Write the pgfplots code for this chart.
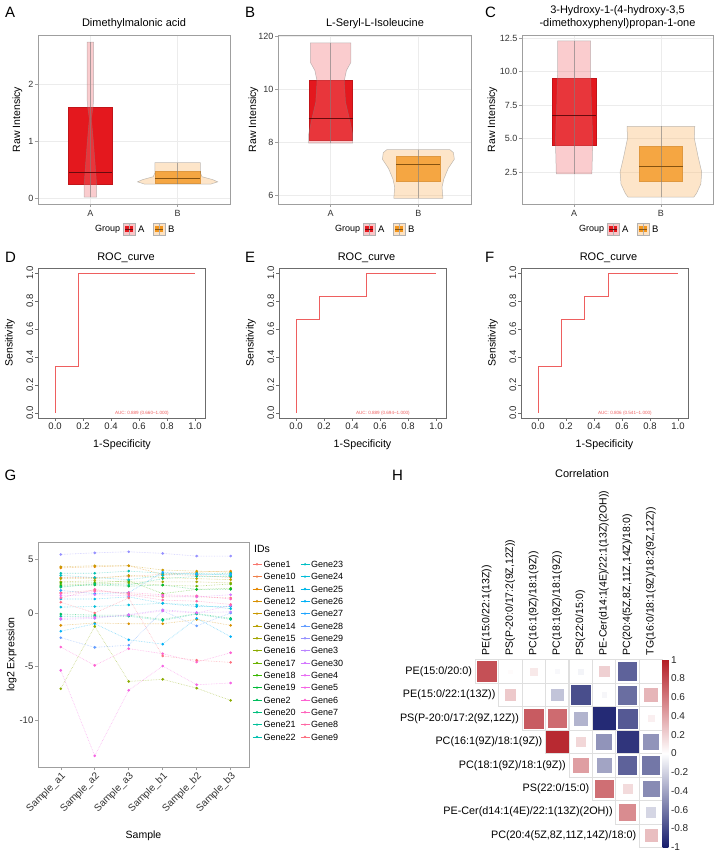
\documentclass[border=0pt]{standalone}
\usepackage{pgfplots}
\pgfplotsset{compat=1.18}
\usepackage{pgfplotstable}
\usepackage{fontspec}
\setmainfont{Liberation Sans}
\newcommand\fs[1]{\fontsize{#1}{#1}\selectfont}

\definecolor{boxA}{RGB}{228,24,30}
\definecolor{boxB}{RGB}{242,150,30}
\definecolor{vioA}{RGB}{240,110,115}
\definecolor{vioB}{RGB}{250,190,120}
\definecolor{rocred}{RGB}{238,95,95}
\definecolor{cGene1}{HTML}{F8766D}
\definecolor{cGene10}{HTML}{EF7F49}
\definecolor{cGene11}{HTML}{E58700}
\definecolor{cGene12}{HTML}{D89000}
\definecolor{cGene13}{HTML}{C99800}
\definecolor{cGene14}{HTML}{B79F00}
\definecolor{cGene15}{HTML}{A3A500}
\definecolor{cGene16}{HTML}{8BAB00}
\definecolor{cGene17}{HTML}{6BB100}
\definecolor{cGene18}{HTML}{39B600}
\definecolor{cGene19}{HTML}{00BA38}
\definecolor{cGene2}{HTML}{00BD5C}
\definecolor{cGene20}{HTML}{00BF7D}
\definecolor{cGene21}{HTML}{00C19A}
\definecolor{cGene22}{HTML}{00C0AF}
\definecolor{cGene23}{HTML}{00BFC4}
\definecolor{cGene24}{HTML}{00BCD8}
\definecolor{cGene25}{HTML}{00B7E8}
\definecolor{cGene26}{HTML}{00B0F6}
\definecolor{cGene27}{HTML}{1FA5FF}
\definecolor{cGene28}{HTML}{619CFF}
\definecolor{cGene29}{HTML}{9590FF}
\definecolor{cGene3}{HTML}{B983FF}
\definecolor{cGene30}{HTML}{D376FF}
\definecolor{cGene4}{HTML}{E76BF3}
\definecolor{cGene5}{HTML}{F564E3}
\definecolor{cGene6}{HTML}{FD61D1}
\definecolor{cGene7}{HTML}{FF62BC}
\definecolor{cGene8}{HTML}{FF67A4}
\definecolor{cGene9}{HTML}{FC7080}

\pgfplotstableread{
s Gene1 Gene10 Gene11 Gene12 Gene13 Gene14 Gene15 Gene16 Gene17 Gene18 Gene19 Gene2 Gene20 Gene21 Gene22 Gene23 Gene24 Gene25 Gene26 Gene27 Gene28 Gene29 Gene3 Gene30 Gene4 Gene5 Gene6 Gene7 Gene8 Gene9
1 1.9 3.3 4.2 -1.15 4.3 3.2 2.9 -7.05 2.6 2.8 2.5 -0.1 2.4 -0.3 3.7 3.5 0.55 1.3 -1.7 2.1 -2.3 5.45 -0.6 1.6 -0.5 -5.34 -3.17 1.8 1.4 1.0
2 2.1 3.3 4.3 -0.93 4.4 3.2 3.0 -1.25 2.7 2.8 2.6 -0.2 2.7 -0.3 3.7 3.3 0.6 1.3 -1.0 1.8 -3.2 5.6 -0.5 1.7 -0.4 -13.3 -4.88 2.0 2.2 0.0
3 1.8 3.4 4.4 -1.0 4.4 3.5 2.9 -6.37 2.8 3.0 2.5 -0.2 2.6 -0.3 3.9 3.1 0.75 1.5 -2.5 1.9 -3.0 5.7 -0.15 1.6 -0.2 -7.2 -3.32 1.9 1.7 1.4
4 1.5 3.6 3.6 -1.0 4.0 3.3 2.9 -6.18 2.6 1.8 2.6 -0.6 3.2 -0.7 3.7 3.5 0.9 0.9 -2.9 3.8 0.2 5.55 0.3 1.6 0.2 -4.94 -3.79 1.7 1.2 -4.0
5 1.5 3.5 3.8 -0.6 3.9 3.2 2.9 -7.0 2.5 2.2 2.2 -0.05 3.4 -0.1 3.6 3.7 0.75 0.6 -0.5 3.6 -1.2 5.3 0.05 1.5 0.0 -6.68 -4.57 1.6 1.1 -4.4
6 1.4 3.3 3.9 -1.15 3.8 3.1 2.8 -8.14 2.7 2.3 2.2 -0.5 3.4 -0.6 3.7 3.5 0.4 0.6 -2.2 3.6 0.0 5.3 0.1 1.7 0.7 -6.52 -3.7 1.3 0.8 -4.6
}\Gdata

\pgfplotstableread{
x y r
0 0 0.78
1 0 0.02
2 0 0.10
3 0 -0.03
4 0 -0.05
5 0 0.21
6 0 -0.69
7 0 0.00
1 1 0.24
2 1 0.00
3 1 -0.26
4 1 -0.78
5 1 -0.04
6 1 -0.64
7 1 0.33
2 2 0.73
3 2 0.66
4 2 -0.33
5 2 -0.94
6 2 -0.73
7 2 0.07
3 3 0.95
4 3 0.18
5 3 -0.47
6 3 -0.89
7 3 -0.47
4 4 0.43
5 4 -0.40
6 4 -0.69
7 4 -0.60
5 5 0.64
6 5 0.16
7 5 -0.51
6 6 0.51
7 6 -0.18
7 7 0.29
}\Hdata

\pgfplotsset{
  bx/.style={scale only axis, anchor=south west, width=#1, height=169pt,
    xmin=0.4, xmax=2.6, xtick={1,2}, xticklabels={A,B},
    grid=major, grid style={gray!15, line width=0.4pt},
    axis line style={gray!75, line width=0.7pt},
    tick style={gray!75, line width=0.5pt}, tick align=outside, tick pos=left,
    major tick length=3pt,
    tick label style={font=\fs{9}, text=black!80},
    yticklabel style={inner sep=1.5pt},
    /pgf/number format/assume math mode=true},
  vA/.style={fill=vioA, fill opacity=0.35, draw=gray, draw opacity=0.5, line width=0.5pt},
  vB/.style={fill=vioB, fill opacity=0.4, draw=gray, draw opacity=0.5, line width=0.5pt},
  bA/.style={fill=boxA, draw=boxA!85!black, line width=0.4pt},
  bB/.style={fill=boxB, draw=boxB!85!black, line width=0.4pt},
  wh/.style={draw=gray, draw opacity=0.6, line width=0.5pt},
  mdA/.style={draw=boxA!45!black, line width=0.7pt},
  mdB/.style={draw=boxB!55!black, line width=0.7pt},
  roc/.style={scale only axis, anchor=south west, width=167.7pt, height=150pt,
    xmin=-0.122, xmax=1.076, ymin=-0.036, ymax=1.036,
    xtick={0,0.2,0.4,0.6,0.8,1}, ytick={0,0.2,0.4,0.6,0.8,1},
    tick pos=left, tick align=outside, major tick length=3pt,
    axis line style={gray!85!black, line width=0.6pt},
    tick style={gray!85!black, line width=0.5pt},
    tick label style={font=\fs{9.5}, text=black!85},
    yticklabel style={rotate=90, anchor=south, inner sep=1.5pt},
    xticklabel style={inner sep=2pt},
    /pgf/number format/fixed, /pgf/number format/fixed zerofill,
    /pgf/number format/precision=1, /pgf/number format/assume math mode=true},
}

\newcommand\grouplegend[1]{%
\begin{scope}[shift={(#1pt,628pt)}]
\node[anchor=west, inner sep=0pt, font=\fs{9}] at (57pt,0pt) {Group};
\filldraw[fill=vioA!40, draw=gray!60, line width=0.4pt] (85pt,-6pt) rectangle (97pt,6pt);
\fill[boxA] (87pt,-3pt) rectangle (95pt,3pt);
\draw[gray!60, line width=0.4pt] (91pt,-6pt)--(91pt,6pt);
\draw[boxA!45!black, line width=0.5pt] (87pt,0pt)--(95pt,0pt);
\node[anchor=west, inner sep=0pt, font=\fs{9.5}] at (100pt,0pt) {A};
\filldraw[fill=vioB!45, draw=gray!60, line width=0.4pt] (115pt,-6pt) rectangle (127pt,6pt);
\fill[boxB] (117pt,-3pt) rectangle (125pt,3pt);
\draw[gray!60, line width=0.4pt] (121pt,-6pt)--(121pt,6pt);
\draw[boxB!55!black, line width=0.5pt] (117pt,0pt)--(125pt,0pt);
\node[anchor=west, inner sep=0pt, font=\fs{9.5}] at (130pt,0pt) {B};
\end{scope}}

\begin{document}
\begin{tikzpicture}
\path[use as bounding box] (0pt,0pt) rectangle (720pt,857pt);

% ---------- panel letters and titles ----------
\foreach \L/\X/\Y in {A/5/844.5, B/245/844.5, C/485/844.5, D/5/599.5, E/245/599.5, F/485/599.5, G/4.5/382, H/392/382}
  \node[anchor=west, inner sep=0pt, font=\fs{15}] at (\X pt,\Y pt) {\L};
\node[font=\fs{11}] at (134pt,833pt) {Dimethylmalonic acid};
\node[font=\fs{11}] at (375pt,833pt) {L-Seryl-L-Isoleucine};
\node[font=\fontsize{11}{13.3}\selectfont, align=center] at (617.5pt,839.5pt) {3-Hydroxy-1-(4-hydroxy-3,5\\-dimethoxyphenyl)propan-1-one};
\foreach \X in {17.5,253.5,492.5}
  \node[rotate=90, font=\fs{10.5}] at (\X pt,737.5pt) {Raw Intensicy};
\grouplegend{38}
\grouplegend{278}
\grouplegend{522}
\foreach \X in {126,366.5,608.5}
  \node[font=\fs{11}] at (\X pt,599.5pt) {ROC\_curve};
\foreach \X in {10,251,493}
  \node[rotate=90, font=\fs{10.5}] at (\X pt,514pt) {Sensitivity};
\foreach \X in {122,362.5,604.5}
  \node[font=\fs{10.7}] at (\X pt,412pt) {1-Specificity};
\node[rotate=90, font=\fs{10.5}] at (11.7pt,202.5pt) {log2 Expression};
\node[font=\fs{10.5}] at (143.5pt,21pt) {Sample};
\node[anchor=west, inner sep=0pt, font=\fs{10.5}] at (254pt,308pt) {IDs};
\node[font=\fs{11}] at (582pt,383pt) {Correlation};

% ---------- A ----------
\begin{axis}[bx=192pt, at={(38pt,653pt)}, ymin=-0.1, ymax=2.875, ytick={0,1,2}]
\addplot[bA] coordinates {(0.75,0.245)(1.25,0.245)(1.25,1.6)(0.75,1.6)} --cycle;
\addplot[bB] coordinates {(1.74,0.27)(2.26,0.27)(2.26,0.48)(1.74,0.48)} --cycle;
\addplot[vA] coordinates {(1.071,0.02)(1.071,0.25)(1.055,0.6)(1.035,1.0)(1.012,1.4)(1.03,1.6)(1.038,1.75)(1.038,2.75)(0.962,2.75)(0.962,1.75)(0.97,1.6)(0.988,1.4)(0.965,1.0)(0.945,0.6)(0.929,0.25)(0.929,0.02)} --cycle;
\addplot[vB] coordinates {(2.38,0.25)(2.46,0.29)(2.40,0.33)(2.28,0.38)(2.26,0.45)(2.26,0.63)(1.74,0.63)(1.74,0.45)(1.72,0.38)(1.60,0.33)(1.54,0.29)(1.62,0.25)} --cycle;
\addplot[wh] coordinates {(1,0.02)(1,2.75)};
\addplot[wh] coordinates {(2,0.25)(2,0.63)};
\addplot[mdA] coordinates {(0.75,0.46)(1.25,0.46)};
\addplot[mdB] coordinates {(1.74,0.35)(2.26,0.35)};
\end{axis}

% ---------- B ----------
\begin{axis}[bx=193pt, at={(278pt,653pt)}, ymin=5.66, ymax=12.04, ytick={6,8,10,12}, yticklabels={6,8,10,120}]
\addplot[bA] coordinates {(0.75,8.08)(1.25,8.08)(1.25,10.33)(0.75,10.33)} --cycle;
\addplot[bB] coordinates {(1.75,6.53)(2.25,6.53)(2.25,7.45)(1.75,7.45)} --cycle;
\addplot[vA] coordinates {(1.25,7.96)(1.25,8.3)(1.22,8.8)(1.17,9.5)(1.155,10.3)(1.18,10.7)(1.23,11.0)(1.23,11.74)(0.77,11.74)(0.77,11.0)(0.82,10.7)(0.845,10.3)(0.83,9.5)(0.78,8.8)(0.75,8.3)(0.75,7.96)} --cycle;
\addplot[vB] coordinates {(2.28,5.87)(2.27,6.3)(2.29,6.6)(2.34,7.0)(2.41,7.35)(2.40,7.6)(2.36,7.71)(1.64,7.71)(1.60,7.6)(1.59,7.35)(1.66,7.0)(1.71,6.6)(1.73,6.3)(1.72,5.87)} --cycle;
\addplot[wh] coordinates {(1,7.96)(1,11.74)};
\addplot[wh] coordinates {(2,5.87)(2,7.71)};
\addplot[mdA] coordinates {(0.75,8.9)(1.25,8.9)};
\addplot[mdB] coordinates {(1.75,7.16)(2.25,7.16)};
\end{axis}

% ---------- C ----------
\begin{axis}[bx=191pt, at={(522pt,653pt)}, ymin=0.11, ymax=12.72, ytick={2.5,5,7.5,10,12.5},
  /pgf/number format/fixed, /pgf/number format/fixed zerofill, /pgf/number format/precision=1]
\addplot[bA] coordinates {(0.75,4.5)(1.25,4.5)(1.25,9.53)(0.75,9.53)} --cycle;
\addplot[bB] coordinates {(1.75,1.8)(2.25,1.8)(2.25,4.45)(1.75,4.45)} --cycle;
\addplot[vA] coordinates {(1.205,2.35)(1.21,3.5)(1.215,5.0)(1.20,7.5)(1.19,10)(1.19,12.28)(0.81,12.28)(0.81,10)(0.80,7.5)(0.785,5.0)(0.79,3.5)(0.795,2.35)} --cycle;
\addplot[vB] coordinates {(2.38,0.63)(2.41,0.9)(2.46,1.6)(2.47,2.5)(2.43,3.6)(2.385,5.0)(2.39,5.9)(1.61,5.9)(1.615,5.0)(1.57,3.6)(1.53,2.5)(1.54,1.6)(1.59,0.9)(1.62,0.63)} --cycle;
\addplot[wh] coordinates {(1,2.35)(1,12.28)};
\addplot[wh] coordinates {(2,0.63)(2,5.9)};
\addplot[mdA] coordinates {(0.75,6.75)(1.25,6.75)};
\addplot[mdB] coordinates {(1.75,2.95)(2.25,2.95)};
\end{axis}

% ---------- D ----------
\begin{axis}[roc, at={(38pt,439pt)}]
\addplot[rocred, line width=0.8pt] coordinates {(0,0)(0,0.3333)(0.1667,0.3333)(0.1667,1)(1,1)};
\node[font=\fs{4.6}, text=rocred] at (axis cs:0.62,0) {AUC: 0.889 (0.660–1.000)};
\end{axis}
% ---------- E ----------
\begin{axis}[roc, at={(279pt,439pt)}]
\addplot[rocred, line width=0.8pt] coordinates {(0,0)(0,0.6667)(0.1667,0.6667)(0.1667,0.8333)(0.5,0.8333)(0.5,1)(1,1)};
\node[font=\fs{4.6}, text=rocred] at (axis cs:0.62,0) {AUC: 0.889 (0.694–1.000)};
\end{axis}
% ---------- F ----------
\begin{axis}[roc, at={(521pt,439pt)}]
\addplot[rocred, line width=0.8pt] coordinates {(0,0)(0,0.3333)(0.1667,0.3333)(0.1667,0.6667)(0.3333,0.6667)(0.3333,0.8333)(0.5,0.8333)(0.5,1)(1,1)};
\node[font=\fs{4.6}, text=rocred] at (axis cs:0.62,0) {AUC: 0.806 (0.541–1.000)};
\end{axis}

% ---------- G ----------
\begin{axis}[scale only axis, anchor=south west, at={(38pt,90pt)}, width=211pt, height=225pt,
  xmin=0.33, xmax=6.54, ymin=-14.34, ymax=6.61,
  xtick={1,2,3,4,5,6}, xticklabels={Sample\_a1,Sample\_a2,Sample\_a3,Sample\_b1,Sample\_b2,Sample\_b3},
  ytick={-10,-5,0,5},
  tick pos=left, tick align=outside, major tick length=3pt,
  axis line style={gray!75, line width=0.7pt}, tick style={gray!75, line width=0.5pt},
  yticklabel style={font=\fs{9.5}, text=black!80, inner sep=1.5pt},
  xticklabel style={rotate=45, anchor=north east, font=\fs{10}, text=black!80, inner sep=1pt},
  /pgf/number format/assume math mode=true]
\pgfplotsinvokeforeach{Gene1,Gene10,Gene11,Gene12,Gene13,Gene14,Gene15,Gene16,Gene17,Gene18,Gene19,Gene2,Gene20,Gene21,Gene22,Gene23,Gene24,Gene25,Gene26,Gene27,Gene28,Gene29,Gene3,Gene30,Gene4,Gene5,Gene6,Gene7,Gene8,Gene9}{
  \addplot[color=c#1, densely dotted, line width=0.6pt, draw opacity=0.5, mark=*, mark size=1.0pt,
    mark options={solid, draw opacity=1, fill opacity=1}] table[x=s, y=#1] {\Gdata};
}
\end{axis}
\foreach \n [count=\k from 0] in {Gene1,Gene10,Gene11,Gene12,Gene13,Gene14,Gene15,Gene16,Gene17,Gene18,Gene19,Gene2,Gene20,Gene21,Gene22}{
  \draw[c\n, line width=0.6pt] (252.5pt,{292.7pt-\k*12.33pt}) -- (261.5pt,{292.7pt-\k*12.33pt});
  \fill[c\n] (257pt,{292.7pt-\k*12.33pt}) circle (1.3pt);
  \node[anchor=west, inner sep=0pt, font=\fs{9}] at (263.5pt,{292.7pt-\k*12.33pt}) {\n};
}
\foreach \n [count=\k from 0] in {Gene23,Gene24,Gene25,Gene26,Gene27,Gene28,Gene29,Gene3,Gene30,Gene4,Gene5,Gene6,Gene7,Gene8,Gene9}{
  \draw[c\n, line width=0.6pt] (300.5pt,{292.7pt-\k*12.33pt}) -- (309.5pt,{292.7pt-\k*12.33pt});
  \fill[c\n] (305pt,{292.7pt-\k*12.33pt}) circle (1.3pt);
  \node[anchor=west, inner sep=0pt, font=\fs{9}] at (311pt,{292.7pt-\k*12.33pt}) {\n};
}

% ---------- H ----------
\begin{axis}[scale only axis, anchor=south west, at={(475pt,9.7pt)}, width=187.6pt, height=187.6pt,
  xmin=-0.5, xmax=7.5, ymin=-0.5, ymax=7.5, y dir=reverse,
  xtick=\empty, ytick=\empty, axis line style={draw=none}, clip=false,
  colormap={corr}{rgb255=(22,28,108) rgb255=(255,255,255) rgb255=(180,30,38)},
  point meta min=-1, point meta max=1,
  colorbar,
  colorbar style={at={(1,1)}, anchor=north west, xshift=3.3pt, width=5.7pt, scale only axis,
    ytick={-1,-0.8,-0.6,-0.4,-0.2,0,0.2,0.4,0.6,0.8,1},
    yticklabels={-1,-0.8,-0.6,-0.4,-0.2,0,0.2,0.4,0.6,0.8,1},
    yticklabel style={font=\fs{10}, text=black!85, anchor=west, inner sep=1pt, xshift=1.5pt},
    major tick length=0pt, axis line style={draw=none}}]
\addplot[only marks, mark=square, mark size=11.7pt, mark options={draw=gray!25, line width=0.6pt}] table[x=x, y=y] {\Hdata};
\addplot[only marks, mark=square*, scatter, point meta=explicit,
  scatter/use mapped color={draw=mapped color, fill=mapped color},
  visualization depends on={11.1*sqrt(abs(\thisrow{r}))+0.01 \as \msz},
  scatter/@pre marker code/.append style={/tikz/mark size=\msz}]
  table[x=x, y=y, meta=r] {\Hdata};
\node[anchor=east, font=\fs{10.8}, inner sep=0pt] at (axis cs:-0.62,0) {PE(15:0/20:0)};
\node[anchor=east, font=\fs{10.8}, inner sep=0pt] at (axis cs:0.38,1) {PE(15:0/22:1(13Z))};
\node[anchor=east, font=\fs{10.8}, inner sep=0pt] at (axis cs:1.38,2) {PS(P-20:0/17:2(9Z,12Z))};
\node[anchor=east, font=\fs{10.8}, inner sep=0pt] at (axis cs:2.38,3) {PC(16:1(9Z)/18:1(9Z))};
\node[anchor=east, font=\fs{10.8}, inner sep=0pt] at (axis cs:3.38,4) {PC(18:1(9Z)/18:1(9Z))};
\node[anchor=east, font=\fs{10.8}, inner sep=0pt] at (axis cs:4.38,5) {PS(22:0/15:0)};
\node[anchor=east, font=\fs{10.8}, inner sep=0pt] at (axis cs:5.38,6) {PE-Cer(d14:1(4E)/22:1(13Z)(2OH))};
\node[anchor=east, font=\fs{10.8}, inner sep=0pt] at (axis cs:6.38,7) {PC(20:4(5Z,8Z,11Z,14Z)/18:0)};
\node[rotate=90, anchor=west, font=\fs{10.5}, inner sep=0pt] at (axis cs:0,-0.68) {PE(15:0/22:1(13Z))};
\node[rotate=90, anchor=west, font=\fs{10.5}, inner sep=0pt] at (axis cs:1,-0.68) {PS(P-20:0/17:2(9Z,12Z))};
\node[rotate=90, anchor=west, font=\fs{10.5}, inner sep=0pt] at (axis cs:2,-0.68) {PC(16:1(9Z)/18:1(9Z))};
\node[rotate=90, anchor=west, font=\fs{10.5}, inner sep=0pt] at (axis cs:3,-0.68) {PC(18:1(9Z)/18:1(9Z))};
\node[rotate=90, anchor=west, font=\fs{10.5}, inner sep=0pt] at (axis cs:4,-0.68) {PS(22:0/15:0)};
\node[rotate=90, anchor=west, font=\fs{10.5}, inner sep=0pt] at (axis cs:5,-0.68) {PE-Cer(d14:1(4E)/22:1(13Z)(2OH))};
\node[rotate=90, anchor=west, font=\fs{10.5}, inner sep=0pt] at (axis cs:6,-0.68) {PC(20:4(5Z,8Z,11Z,14Z)/18:0)};
\node[rotate=90, anchor=west, font=\fs{10.5}, inner sep=0pt] at (axis cs:7,-0.68) {TG(16:0/18:1(9Z)/18:2(9Z,12Z))};
\end{axis}
\end{tikzpicture}
\end{document}
